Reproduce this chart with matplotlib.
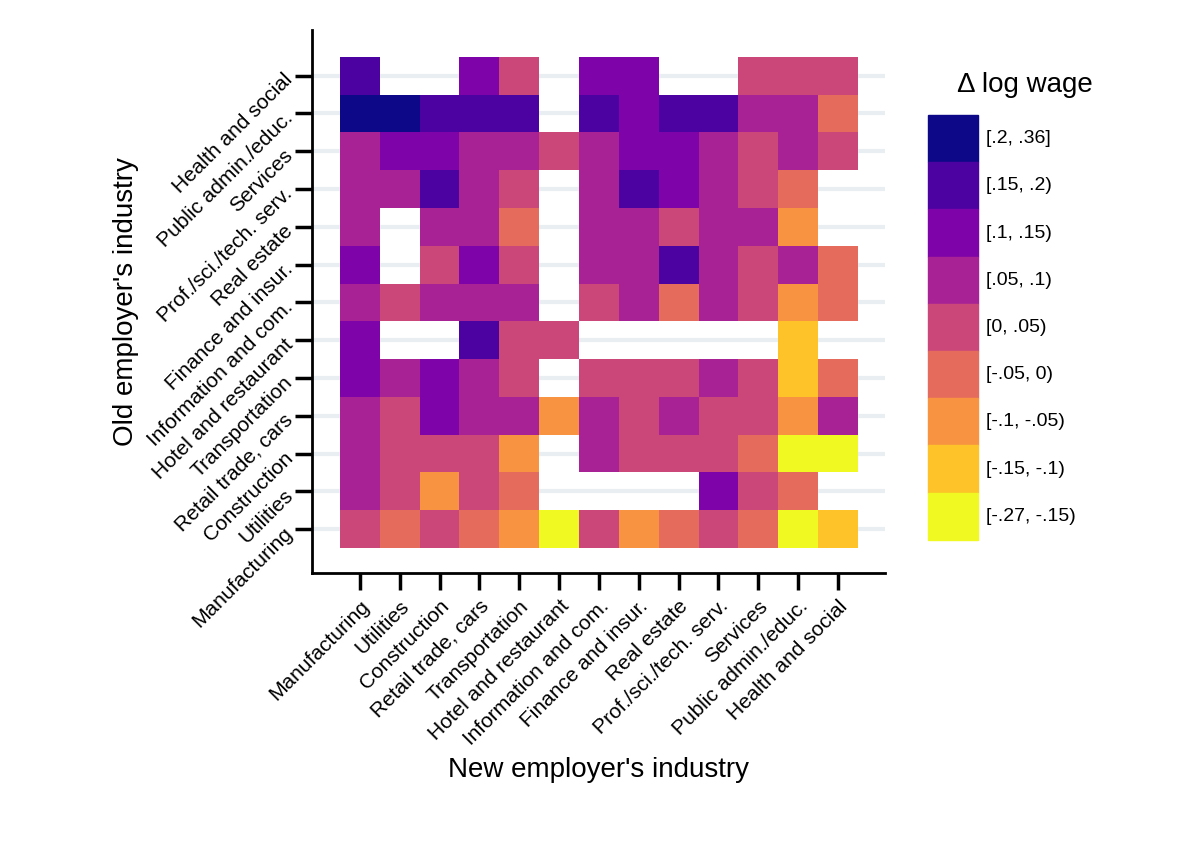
import numpy as np
import matplotlib
matplotlib.use("Agg")
import matplotlib.pyplot as plt
from matplotlib.colors import ListedColormap, BoundaryNorm
from matplotlib.patches import Rectangle

plt.rcParams['font.family'] = ['Liberation Sans', 'DejaVu Sans']

industries = ["Manufacturing", "Utilities", "Construction", "Retail trade, cars",
              "Transportation", "Hotel and restaurant", "Information and com.",
              "Finance and insur.", "Real estate", "Prof./sci./tech. serv.",
              "Services", "Public admin./educ.", "Health and social"]
bin_labels = ["[-.27, -.15)", "[-.15, -.1)", "[-.1, -.05)", "[-.05, 0)", "[0, .05)",
              "[.05, .1)", "[.1, .15)", "[.15, .2)", "[.2, .36]"]
bin_colors = ["#f0f921", "#fdc328", "#f89441", "#e56b5d", "#cb4679",
              "#a82296", "#7e03a8", "#4c02a1", "#0d0887"]
N = -1
# rows: old employer industry, from Manufacturing (bottom) to Health and social (top)
# values: bin index (0 = lowest), -1 = no data
levels = [
    [4, 3, 4, 3, 2, 0, 4, 2, 3, 4, 3, 0, 1],   # Manufacturing
    [5, 4, 2, 4, 3, N, N, N, N, 6, 4, 3, N],   # Utilities
    [5, 4, 4, 4, 2, N, 5, 4, 4, 4, 3, 0, 0],   # Construction
    [5, 4, 6, 5, 5, 2, 5, 4, 5, 4, 4, 2, 5],   # Retail
    [6, 5, 6, 5, 4, N, 4, 4, 4, 5, 4, 1, 3],   # Transportation
    [6, N, N, 7, 4, 4, N, N, N, N, N, 1, N],   # Hotel
    [5, 4, 5, 5, 5, N, 4, 5, 3, 5, 4, 2, 3],   # Information
    [6, N, 4, 6, 4, N, 5, 5, 7, 5, 4, 5, 3],   # Finance
    [5, N, 5, 5, 3, N, 5, 5, 4, 5, 5, 2, N],   # Real estate
    [5, 5, 7, 5, 4, N, 5, 7, 6, 5, 4, 3, N],   # Prof
    [5, 6, 6, 5, 5, 4, 5, 6, 6, 5, 4, 5, 4],   # Services
    [8, 8, 7, 7, 7, N, 7, 6, 7, 7, 5, 5, 3],   # Public admin
    [7, N, N, 6, 4, N, 6, 6, N, N, 4, 4, 4],   # Health
]

data = np.ma.masked_less(np.array(levels, dtype=float), 0)
cmap = ListedColormap(bin_colors)
norm = BoundaryNorm(np.arange(-0.5, 9.5, 1), cmap.N)

fig = plt.figure(figsize=(12, 8.47), dpi=100)
ax = fig.add_axes([0.26, 0.3235, 0.4775, 0.6411])
n = len(industries)
for i in range(n):
    ax.axhline(i, color="#e8eef2", lw=3, zorder=0)
ax.pcolormesh(np.arange(n + 1) - 0.5, np.arange(n + 1) - 0.5, data,
              cmap=cmap, norm=norm, zorder=1)
ax.set_xlim(-1.2, n - 0.5 + 0.68)
ax.set_ylim(-1.16, n - 0.5 + 0.71)
ax.set_xticks(range(n))
ax.set_yticks(range(n))
ax.set_xticklabels(industries, rotation=45, ha="right", rotation_mode="anchor", fontsize=15)
ax.set_yticklabels(industries, rotation=45, ha="right", rotation_mode="anchor", fontsize=15)
ax.tick_params(length=12, width=2.5, direction="out", pad=5)
for s in ["top", "right"]:
    ax.spines[s].set_visible(False)
for s in ["left", "bottom"]:
    ax.spines[s].set_linewidth(2)
ax.set_xlabel("New employer's industry", fontsize=20, labelpad=6)
ax.set_ylabel("Old employer's industry", fontsize=20, labelpad=4)

# legend
fig.text(1025 / 1200, 1 - 85 / 847, "Δ log wage", fontsize=20, ha="center", va="center")
top = 115
h = 47.2
for k, (lab, col) in enumerate(zip(bin_labels[::-1], bin_colors[::-1])):
    y0 = top + k * h
    fig.patches.append(Rectangle((928 / 1200, 1 - (y0 + h) / 847), 50 / 1200, h / 847,
                                 transform=fig.transFigure, color=col))
    fig.text(986 / 1200, 1 - (y0 + h / 2) / 847, lab, fontsize=14, va="center")

fig.savefig("out.png", dpi=100, facecolor="white")
